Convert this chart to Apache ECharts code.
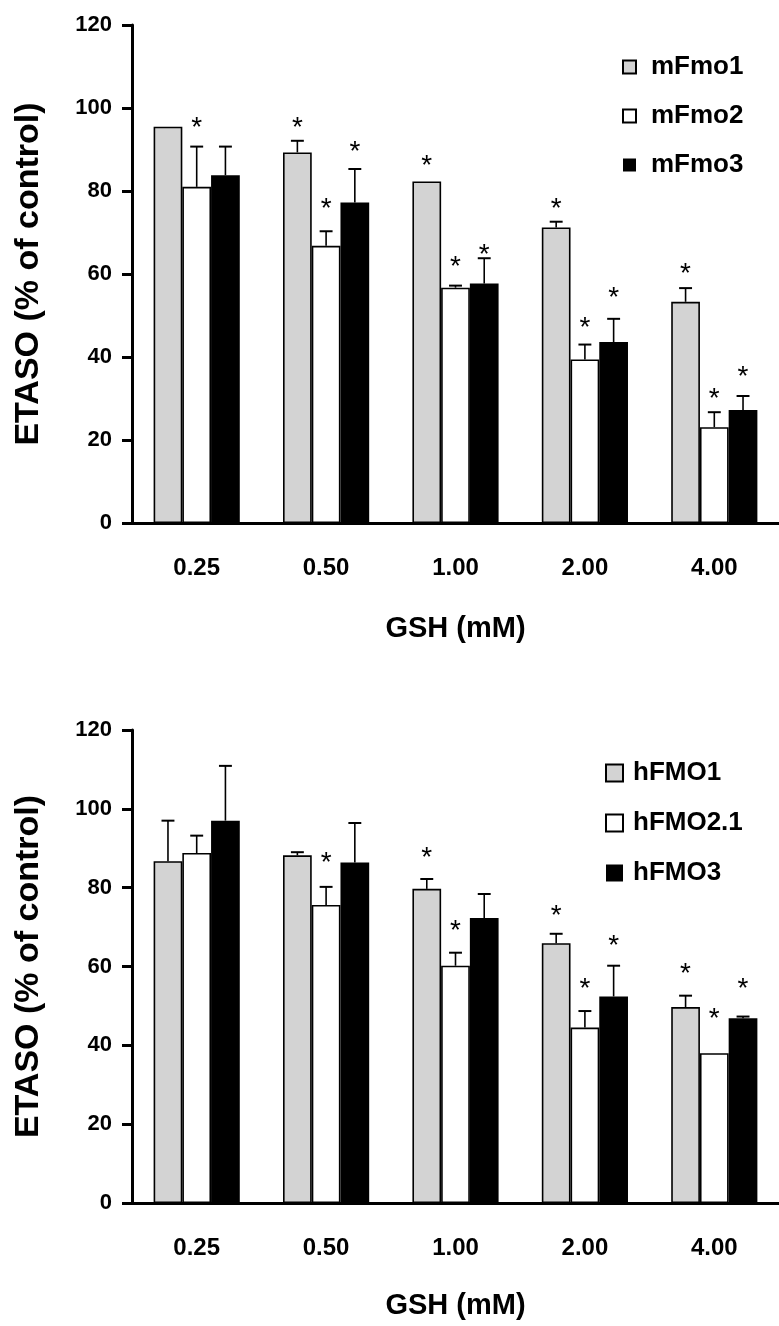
<!DOCTYPE html>
<html><head><meta charset="utf-8">
<script src="https://cdn.jsdelivr.net/npm/echarts@6/dist/echarts.min.js"></script>
<style>html,body{margin:0;padding:0;background:#fff}#c{width:779px;height:1326px}</style>
</head><body><div id="c"></div>
<script>
// ---------- data ----------
const categories = ['0.25', '0.50', '1.00', '2.00', '4.00'];
const yMin = 0, yMax = 120, yStep = 20;
const xTitle = 'GSH (mM)';
const yTitle = 'ETASO (% of control)';

// top panel (mouse enzymes)
const mouseNames = ['mFmo1', 'mFmo2', 'mFmo3'];
const mFmo1 = [95.5, 89.3, 82.3, 71.2, 53.3];
const mFmo1Err = [0, 2.8, 0, 1.4, 3.3];
const mFmo1Star = [null, 96.7, 87.7, 77.2, 61.6];
const mFmo2 = [81.0, 66.8, 56.7, 39.4, 23.1];
const mFmo2Err = [9.7, 3.5, 0.5, 3.6, 3.6];
const mFmo2Star = [96.7, 77.2, 63.2, 48.7, 31.4];
const mFmo3 = [83.8, 77.2, 57.7, 43.6, 27.2];
const mFmo3Err = [6.9, 8.1, 6.1, 5.6, 3.4];
const mFmo3Star = [null, 91.1, 66.3, 55.9, 36.7];

// bottom panel (human enzymes)
const humanNames = ['hFMO1', 'hFMO2.1', 'hFMO3'];
const hFMO1 = [86.7, 88.2, 79.7, 65.9, 49.7];
const hFMO1Err = [10.3, 0.8, 2.5, 2.4, 2.9];
const hFMO1Star = [null, null, 89.3, 74.4, 59.7];
const hFMO2 = [88.8, 75.6, 60.2, 44.5, 38.0];
const hFMO2Err = [4.4, 4.6, 3.3, 4.2, 0];
const hFMO2Star = [null, 87.9, 70.8, 55.9, 48.5];
const hFMO3 = [97.0, 86.4, 72.3, 52.4, 46.9];
const hFMO3Err = [13.9, 10.0, 6.1, 7.8, 0.4];
const hFMO3Star = [null, null, null, 67.0, 56.0];

// ---------- styling ----------
const FONT = "'Liberation Sans', Arial, sans-serif";
const BAR_FRAC = 0.222;
const fills = ['#d3d3d3', '#ffffff', '#000000'];

const chart = echarts.init(document.getElementById('c'), null, {renderer: 'canvas'});

function errRender(k) {
  return function (params, api) {
    const i = api.value(0), v = api.value(1), e = api.value(2);
    if (!e) return {type: 'group', children: []};
    const band = api.size([1, 0])[0];
    const bw = band * BAR_FRAC;
    const p0 = api.coord([i, v]);
    const p1 = api.coord([i, v + e]);
    const x = p0[0] + (k - 1) * bw;
    const cap = bw * 0.45;
    return {type: 'group', children: [
      {type: 'line', shape: {x1: x, y1: p0[1], x2: x, y2: p1[1]}, style: {stroke: '#000', lineWidth: 1.6}},
      {type: 'line', shape: {x1: x - cap / 2, y1: p1[1], x2: x + cap / 2, y2: p1[1]}, style: {stroke: '#000', lineWidth: 2}}
    ]};
  };
}
function starRender(k) {
  return function (params, api) {
    const i = api.value(0), v = api.value(1);
    const band = api.size([1, 0])[0];
    const bw = band * BAR_FRAC;
    const p = api.coord([i, v]);
    return {type: 'text', x: p[0] + (k - 1) * bw, y: p[1] + 7,
      style: {text: '*', fill: '#000', font: 'normal 28px ' + FONT, textAlign: 'center', textVerticalAlign: 'middle'}};
  };
}

function panelSeries(names, vals, errs, stars, axisIdx) {
  const out = [];
  names.forEach(function (nm, k) {
    out.push({
      type: 'bar', name: nm, xAxisIndex: axisIdx, yAxisIndex: axisIdx,
      data: vals[k], barWidth: (BAR_FRAC * 100) + '%', barGap: '0%',
      itemStyle: {color: fills[k], borderColor: '#000', borderWidth: k === 2 ? 0 : 1.6},
      emphasis: {disabled: true}, animation: false, z: 2
    });
  });
  names.forEach(function (nm, k) {
    out.push({
      type: 'custom', xAxisIndex: axisIdx, yAxisIndex: axisIdx, z: 3, animation: false, silent: true,
      renderItem: errRender(k),
      data: vals[k].map(function (v, i) { return [i, v, errs[k][i]]; })
    });
    out.push({
      type: 'custom', xAxisIndex: axisIdx, yAxisIndex: axisIdx, z: 4, animation: false, silent: true,
      renderItem: starRender(k),
      data: stars[k].map(function (s, i) { return s == null ? null : [i, s]; }).filter(function (d) { return d; })
    });
  });
  return out;
}

function xAx(idx, gap) {
  return {
    type: 'category', gridIndex: idx, data: categories,
    axisLine: {lineStyle: {color: '#000', width: 3}},
    axisTick: {show: false},
    axisLabel: {color: '#000', fontSize: 24, fontWeight: 'bold', fontFamily: FONT, margin: 33},
    name: xTitle, nameLocation: 'middle', nameGap: gap,
    nameTextStyle: {color: '#000', fontSize: 29, fontWeight: 'bold', fontFamily: FONT}
  };
}
function yAx(idx) {
  return {
    type: 'value', gridIndex: idx, min: yMin, max: yMax, interval: yStep,
    splitLine: {show: false},
    axisLine: {show: true, lineStyle: {color: '#000', width: 3}},
    axisTick: {show: true, length: 10, lineStyle: {color: '#000', width: 3}},
    axisLabel: {color: '#000', fontSize: 22, fontWeight: 'bold', fontFamily: FONT, margin: 20},
    name: yTitle, nameLocation: 'middle', nameRotate: 90, nameGap: 86,
    nameTextStyle: {color: '#000', fontSize: 34, fontWeight: 'bold', fontFamily: FONT}
  };
}
function legend(names, left, top, icon, gap, pad) {
  return {
    data: names, orient: 'vertical', left: left, top: top, icon: 'rect',
    itemWidth: icon, itemHeight: icon, itemGap: gap, selectedMode: false,
    textStyle: {color: '#000', fontSize: 26, fontWeight: 'bold', fontFamily: FONT, padding: [0, 0, 0, pad]}
  };
}

const option = {
  backgroundColor: '#fff',
  animation: false,
  grid: [
    {left: 132, top: 25, width: 655, height: 498},
    {left: 132, top: 730, width: 655, height: 473}
  ],
  xAxis: [xAx(0, 91), xAx(1, 88)],
  yAxis: [yAx(0), yAx(1)],
  legend: [
    legend(mouseNames, 617, 49, 13, 23, 10),
    legend(humanNames, 600, 755, 17, 24, 5)
  ],
  series: [].concat(
    panelSeries(mouseNames, [mFmo1, mFmo2, mFmo3], [mFmo1Err, mFmo2Err, mFmo3Err], [mFmo1Star, mFmo2Star, mFmo3Star], 0),
    panelSeries(humanNames, [hFMO1, hFMO2, hFMO3], [hFMO1Err, hFMO2Err, hFMO3Err], [hFMO1Star, hFMO2Star, hFMO3Star], 1)
  )
};
chart.setOption(option);
</script>
</body></html>
